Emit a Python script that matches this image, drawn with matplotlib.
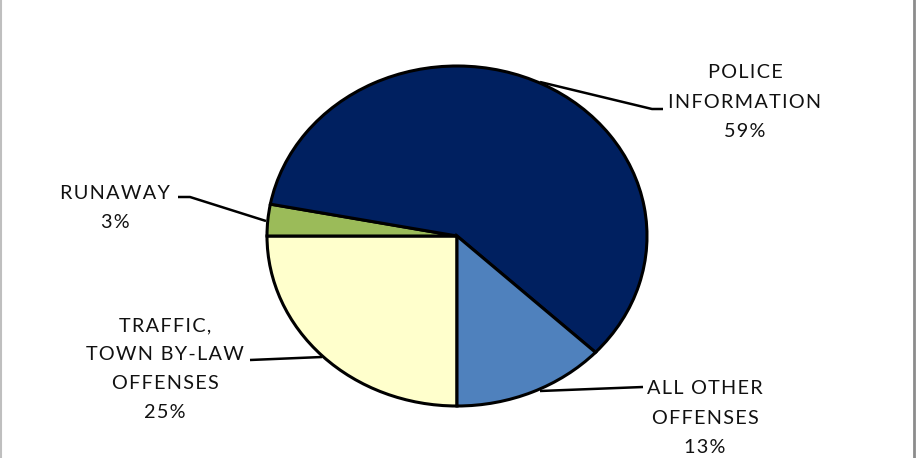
import matplotlib.pyplot as plt

# ----------------------------------------------------------------
# Data
# ----------------------------------------------------------------
categories = ['TRAFFIC,\nTOWN BY-LAW\nOFFENSES', 'RUNAWAY',
              'POLICE\nINFORMATION', 'ALL OTHER\nOFFENSES']
shares     = [25, 3, 59, 13]
colors     = ['#FFFFCC', '#9BBB59', '#002060', '#4F81BD']

# ----------------------------------------------------------------
# Figure: pixel-space overlay for labels and leader lines
# ----------------------------------------------------------------
W, H = 917, 458
fig = plt.figure(figsize=(W / 100, H / 100), dpi=100)

# pie sits in its own axes so it is stretched slightly wider than tall
cx, cy, rx, ry = 457, 236, 190, 170
pie_ax = fig.add_axes([(cx - rx) / W, 1 - (cy + ry) / H,
                       2 * rx / W, 2 * ry / H])
pie_ax.pie(shares, colors=colors, startangle=-90, counterclock=False,
           radius=1.0,
           wedgeprops=dict(edgecolor='black', linewidth=2.2))
pie_ax.set_xlim(-1.0, 1.0)
pie_ax.set_ylim(-1.0, 1.0)
pie_ax.set_aspect('auto')
pie_ax.axis('off')

ov = fig.add_axes([0, 0, 1, 1], zorder=5)
ov.set_xlim(0, W)
ov.set_ylim(H, 0)
ov.axis('off')
ov.patch.set_alpha(0)

font = dict(family=['Lato', 'DejaVu Sans'], fontsize=14.3,
            color='#111111', ha='center', va='center',
            linespacing=1.86)


def spaced(s, gap='\u200a'):
    # widen tracking like the spreadsheet labels
    return '\n'.join(gap.join(line) for line in s.split('\n'))


# label anchors (pixel centres) and leader lines
label_pos = {
    'POLICE\nINFORMATION': (745, 102),
    'ALL OTHER\nOFFENSES': (705, 418),
    'TRAFFIC,\nTOWN BY-LAW\nOFFENSES': (165, 369),
    'RUNAWAY': (115, 208),
}
leaders = {
    'POLICE\nINFORMATION': ([540, 652, 663], [82, 109, 109]),
    'ALL OTHER\nOFFENSES': ([540, 643], [391, 387]),
    'TRAFFIC,\nTOWN BY-LAW\nOFFENSES': ([322, 250], [357, 360]),
    'RUNAWAY': ([266, 190, 178], [221, 197, 197]),
}

for name, pct in zip(categories, shares):
    x, y = label_pos[name]
    ov.text(x, y, spaced(f'{name}\n{pct}%'), **font)
    lx, ly = leaders[name]
    ov.plot(lx, ly, color='black', linewidth=1.8,
            solid_capstyle='butt')

# thin grey frame edges
ov.plot([0.5, 0.5], [0, H], color='#bfbfbf', linewidth=1.5)
ov.plot([913.5, 913.5], [0, H], color='#8c8c8c', linewidth=2)

plt.savefig('out.png', dpi=100)
